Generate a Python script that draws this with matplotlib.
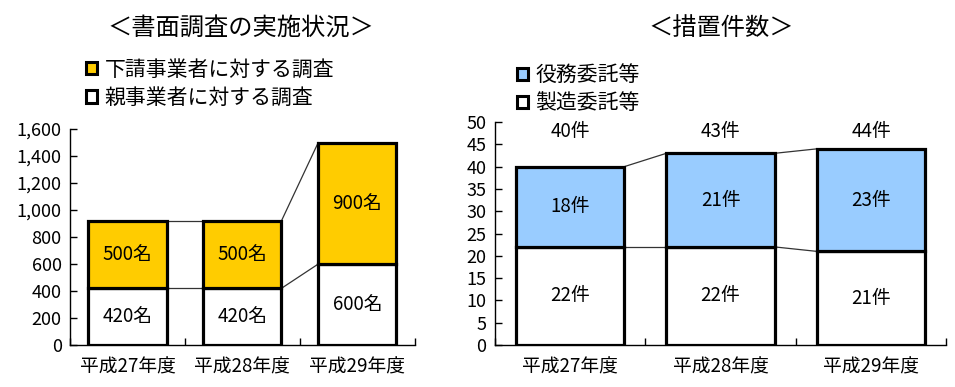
import numpy as np
import matplotlib
matplotlib.use("Agg")
import matplotlib.pyplot as plt
from matplotlib.patches import Patch
from matplotlib.ticker import FuncFormatter, FixedLocator

plt.rcParams['font.family'] = ['Noto Sans CJK JP', 'DejaVu Sans']

# data
years = ["平成27年度", "平成28年度", "平成29年度"]

# left: 書面調査
oya = [420, 420, 600]        # 親事業者に対する調査
shita = [500, 500, 900]      # 下請事業者に対する調査

# right: 措置件数
seizo = [22, 22, 21]         # 製造委託等
ekimu = [18, 21, 23]         # 役務委託等

gold = "#FFCC00"
blue = "#99CCFF"

fig = plt.figure(figsize=(9.55, 3.87), dpi=100)
ax1 = fig.add_axes([0.0733, 0.1085, 0.361, 0.558])
ax2 = fig.add_axes([0.518, 0.1085, 0.473, 0.576])


def stacked(ax, bottom, top, width, c_top, unit):
    x = np.arange(len(bottom))
    bottom = np.array(bottom)
    top = np.array(top)
    total = bottom + top
    ax.bar(x, bottom, width, color="white", edgecolor="black", linewidth=2.3, zorder=3)
    ax.bar(x, top, width, bottom=bottom, color=c_top, edgecolor="black", linewidth=2.3, zorder=3)
    # series lines between bars
    for lvl in (bottom, total):
        for i in range(len(x) - 1):
            ax.plot([x[i] + width / 2, x[i + 1] - width / 2], [lvl[i], lvl[i + 1]],
                    color="#333333", linewidth=0.9, zorder=2)
    for i in range(len(x)):
        ax.text(x[i], bottom[i] / 2, f"{bottom[i]}{unit}", ha="center", va="center",
                fontsize=13.5, zorder=4)
        ax.text(x[i], bottom[i] + top[i] / 2, f"{top[i]}{unit}", ha="center", va="center",
                fontsize=13.5, zorder=4)
    ax.set_xlim(-0.5, len(x) - 0.5)
    ax.set_xticks(x)
    ax.set_xticklabels(years, fontsize=13.5)
    ax.xaxis.set_minor_locator(FixedLocator(np.arange(-0.5, len(x), 1.0)))
    ax.tick_params(axis="x", which="major", length=0, pad=8)
    ax.tick_params(axis="x", which="minor", direction="in", length=5, width=1)
    ax.tick_params(axis="y", direction="in", length=5, width=1, labelsize=13, pad=6)
    for s in ("top", "right"):
        ax.spines[s].set_visible(False)
    for s in ("left", "bottom"):
        ax.spines[s].set_linewidth(1)
    return x, total


stacked(ax1, oya, shita, 0.68, gold, "名")
ax1.set_ylim(0, 1600)
ax1.set_yticks(np.arange(0, 1601, 200))
ax1.yaxis.set_major_formatter(FuncFormatter(lambda v, p: f"{int(v):,}"))

x2, tot2 = stacked(ax2, seizo, ekimu, 0.72, blue, "件")
ax2.set_ylim(0, 50)
ax2.set_yticks(np.arange(0, 51, 5))
for i in range(len(x2)):
    ax2.text(x2[i], max(tot2) + 4, f"{tot2[i]}件", ha="center", va="center", fontsize=13.5)

fig.text(0.252, 0.928, "＜書面調査の実施状況＞", ha="center", va="center", fontsize=17.5)
fig.text(0.755, 0.928, "＜措置件数＞", ha="center", va="center", fontsize=17.5)

h1 = [Patch(facecolor=gold, edgecolor="black", linewidth=2.2),
      Patch(facecolor="white", edgecolor="black", linewidth=2.2)]
fig.legend(h1, ["下請事業者に対する調査", "親事業者に対する調査"], loc="upper left",
           bbox_to_anchor=(0.09, 0.849), frameon=False, fontsize=15,
           handlelength=0.55, handleheight=0.55, handletextpad=0.35, labelspacing=0.3,
           borderaxespad=0, borderpad=0)

h2 = [Patch(facecolor=blue, edgecolor="black", linewidth=2.2),
      Patch(facecolor="white", edgecolor="black", linewidth=2.2)]
fig.legend(h2, ["役務委託等", "製造委託等"], loc="upper left",
           bbox_to_anchor=(0.541, 0.834), frameon=False, fontsize=15,
           handlelength=0.55, handleheight=0.55, handletextpad=0.35, labelspacing=0.3,
           borderaxespad=0, borderpad=0)

fig.savefig("out.png", dpi=100)
